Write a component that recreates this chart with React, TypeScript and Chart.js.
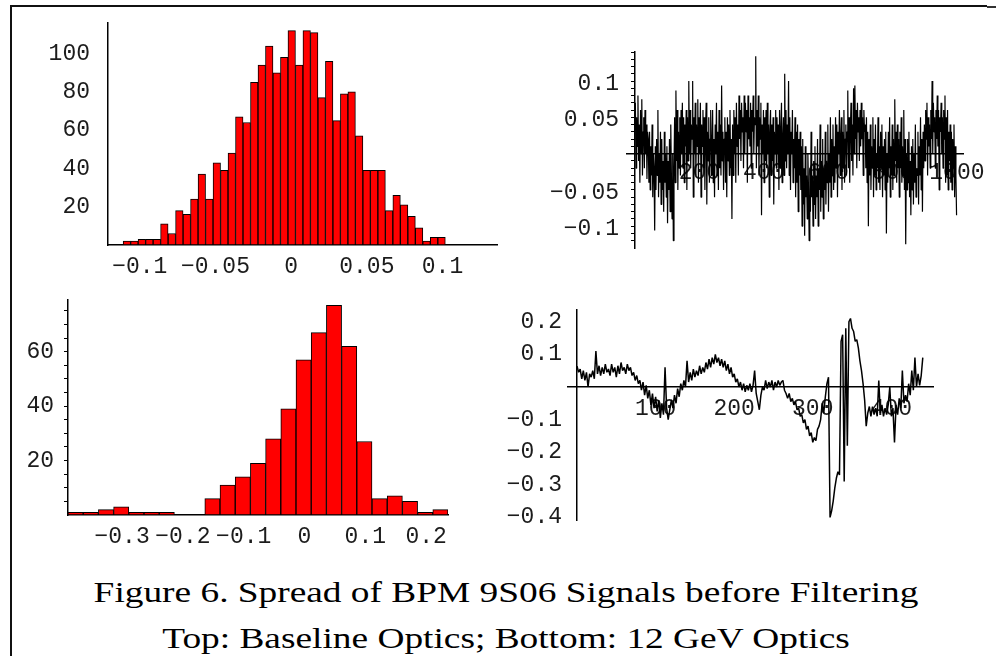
import React, { useEffect, useRef } from "react";
import { Chart, registerables } from "chart.js";

Chart.register(...registerables);

const MONO = "'Liberation Mono', 'DejaVu Sans Mono', monospace";
const TICK_FONT = { family: MONO, size: 23 };
const INK = "#1c1c1c";

// ---------- Top-left: histogram, baseline optics ----------
const TL_BIN_START = -0.111;
const TL_BIN_WIDTH = 0.00495;
const TL_COUNTS = [2, 2, 3, 3, 3, 11, 6, 18, 16, 24, 37, 24, 43, 39, 48, 67, 64, 85, 94, 104, 90, 98, 112, 94, 112, 111, 77, 96, 65, 79, 80, 57, 39, 39, 39, 18, 26, 21, 15, 9, 2, 4, 4];
const TL_X_TICKS = [-0.1, -0.05, 0, 0.05, 0.1];
const TL_X_LABELS = ["−0.1", "−0.05", "0", "0.05", "0.1"];
const TL_Y_TICKS = [20, 40, 60, 80, 100];
const TL_Y_LABELS = ["20", "40", "60", "80", "100"];

// ---------- Bottom-left: histogram, 12 GeV optics ----------
const BL_BIN_START = -0.389;
const BL_BIN_WIDTH = 0.025;
const BL_COUNTS = [1, 1, 2, 3, 1, 1, 1, 0, 0, 6, 11, 14, 19, 28, 39, 57, 67, 77, 62, 27, 6, 7, 5, 1, 2];
const BL_X_TICKS = [-0.3, -0.2, -0.1, 0, 0.1, 0.2];
const BL_X_LABELS = ["−0.3", "−0.2", "−0.1", "0", "0.1", "0.2"];
const BL_Y_TICKS = [5, 10, 15, 20, 25, 30, 35, 40, 45, 50, 55, 60, 65, 70, 75];
const BL_Y_LABELS = ["", "", "", "20", "", "", "", "40", "", "", "", "60", "", "", ""];

// ---------- Top-right: signal, baseline optics ----------
const TR_X_START = 1;
const TR_X_STEP = 2;
const TR_VALUES = [
  0.07, -0.02, 0.05, 0.01, 0.08, -0.01, 0.04, -0.04, 0.06, 0.0,
  0.075, -0.03, 0.03, 0.05, -0.02, 0.06, 0.0, 0.04, -0.035, 0.03,
  0.02, -0.04, 0.03, -0.05, 0.01, -0.03, 0.04, -0.06, 0.0, -0.02,
  -0.106, 0.01, -0.05, 0.02, -0.03, 0.06, -0.06, 0.0, -0.04, 0.03,
  -0.07, 0.02, -0.05, -0.01, -0.08, 0.03, -0.04, 0.0, -0.06, 0.01,
  -0.096, -0.01, -0.05, 0.02, -0.08, 0.04, -0.03, -0.09, 0.0, -0.12,
  -0.02, 0.05, -0.04, 0.087, -0.01, 0.06, -0.05, 0.03, -0.02, 0.05,
  -0.03, 0.06, 0.0, 0.07, -0.02, 0.05, -0.04, 0.04, 0.01, 0.06,
  -0.05, 0.05, -0.01, 0.1, 0.0, 0.06, -0.02, 0.04, 0.02, 0.1,
  -0.06, 0.05, 0.0, 0.07, -0.03, 0.04, 0.01, 0.075, -0.04, 0.05,
  0.0, 0.07, -0.06, 0.04, 0.01, 0.06, -0.02, 0.05, -0.05, 0.03,
  0.07, -0.07, 0.03, -0.01, 0.05, -0.04, 0.02, 0.06, -0.03, 0.01,
  0.06, -0.04, 0.02, -0.06, 0.04, 0.0, 0.07, -0.03, 0.03, -0.05,
  0.06, -0.02, 0.04, -0.03, 0.094, -0.01, 0.03, -0.05, 0.02, 0.05,
  -0.04, 0.03, -0.06, 0.05, -0.01, 0.04, -0.03, 0.06, -0.02, 0.02,
  -0.09, 0.04, -0.03, 0.06, 0.0, 0.05, -0.04, 0.07, 0.01, 0.04,
  -0.03, 0.08, 0.02, 0.06, -0.01, 0.07, 0.03, 0.05, -0.02, 0.08,
  0.0, 0.07, 0.03, 0.06, -0.04, 0.08, 0.02, 0.05, 0.01, 0.07,
  -0.02, 0.06, 0.03, 0.08, 0.0, 0.05, 0.04, 0.134, -0.02, 0.06,
  0.01, 0.08, -0.03, 0.05, 0.02, 0.07, -0.085, 0.04, 0.0, 0.06,
  -0.04, 0.05, -0.01, 0.06, -0.02, 0.07, 0.0, 0.04, -0.06, 0.03,
  0.06, -0.03, 0.04, -0.01, 0.05, -0.07, 0.03, 0.0, 0.06, -0.02,
  0.05, 0.0, 0.04, -0.05, 0.06, -0.02, 0.03, 0.07, -0.04, 0.02,
  0.05, -0.03, 0.11, -0.01, 0.06, -0.02, 0.04, 0.0, 0.1, -0.03,
  0.05, -0.05, 0.03, 0.0, 0.06, -0.04, 0.02, -0.02, 0.05, -0.06,
  0.03, -0.04, 0.04, -0.08, 0.02, -0.03, 0.03, -0.05, 0.01, -0.1,
  0.02, -0.07, -0.02, -0.113, 0.01, -0.06, -0.03, -0.09, 0.0, -0.05,
  -0.12, -0.02, -0.08, 0.03, -0.06, -0.03, -0.1, -0.01, -0.07, 0.01,
  -0.09, -0.03, -0.06, 0.02, -0.1, -0.02, -0.05, 0.04, -0.08, -0.01,
  -0.06, 0.02, -0.09, -0.02, -0.05, 0.03, -0.07, -0.01, -0.04, 0.04,
  -0.08, 0.0, -0.04, 0.05, -0.06, 0.02, -0.03, 0.04, -0.05, 0.01,
  -0.04, 0.05, -0.02, 0.04, -0.06, 0.03, 0.0, 0.06, -0.03, 0.02,
  0.05, -0.05, 0.03, -0.02, 0.06, -0.04, 0.02, 0.04, -0.03, 0.03,
  0.087, -0.02, 0.05, -0.04, 0.03, 0.07, -0.01, 0.04, -0.03, 0.09,
  0.0, 0.094, 0.02, 0.06, -0.02, 0.07, 0.03, 0.05, -0.01, 0.06,
  0.01, 0.07, 0.02, 0.05, -0.03, 0.06, 0.03, 0.04, -0.02, 0.05,
  -0.04, 0.03, -0.1, 0.02, -0.03, 0.04, -0.05, 0.01, -0.02, 0.05,
  -0.06, 0.02, -0.03, 0.04, -0.05, 0.0, -0.02, 0.05, -0.04, 0.01,
  -0.05, 0.03, -0.02, 0.04, -0.06, 0.01, -0.03, 0.02, -0.05, 0.03,
  -0.11, 0.0, -0.04, 0.03, -0.02, 0.05, -0.06, 0.01, -0.03, 0.04,
  -0.05, 0.02, -0.03, 0.075, -0.01, 0.03, -0.04, 0.04, -0.02, 0.02,
  -0.06, 0.03, -0.02, 0.05, -0.04, 0.01, -0.03, 0.06, -0.05, 0.02,
  -0.125, 0.0, -0.05, 0.02, -0.04, 0.03, -0.06, -0.01, -0.085, 0.01,
  -0.05, 0.02, -0.07, 0.0, -0.04, 0.04, -0.06, -0.02, -0.03, 0.03,
  -0.07, 0.01, -0.03, 0.05, -0.05, 0.02, -0.08, 0.03, -0.02, 0.04,
  -0.01, 0.06, 0.02, 0.07, -0.03, 0.05, 0.01, 0.04, -0.02, 0.06,
  0.02, 0.1, 0.0, 0.07, 0.03, 0.05, -0.02, 0.06, 0.02, 0.08,
  0.01, 0.06, -0.05, 0.05, 0.03, 0.07, 0.0, 0.05, -0.02, 0.06,
  0.02, 0.08, -0.04, 0.05, -0.03, 0.06, -0.05, 0.03, -0.01, 0.04,
  -0.04, 0.03, -0.05, 0.02, -0.02, 0.04, -0.06, 0.01, -0.03, -0.085,
];
const TR_X_TICKS = [200, 400, 600, 800, 1000];
const TR_X_LABELS = ["200", "400", "600", "800", "1000"];
const TR_Y_TICKS = [-0.12, -0.11, -0.1, -0.09, -0.08, -0.07, -0.06, -0.05, -0.04, -0.03, -0.02, -0.01, 0.01, 0.02, 0.03, 0.04, 0.05, 0.06, 0.07, 0.08, 0.09, 0.1, 0.11, 0.12, 0.13, 0.14];
const TR_Y_LABEL_TICKS = [-0.1, -0.05, 0.05, 0.1];
const TR_Y_LABELS = ["−0.1", "−0.05", "0.05", "0.1"];

// ---------- Bottom-right: signal, 12 GeV optics ----------
const BR_X_START = 0;
const BR_X_STEP = 2;
const BR_VALUES = [
  0.064, 0.045, 0.055, 0.025, 0.05, 0.02, 0.045, 0.0, 0.04, 0.03,
  0.05, 0.025, 0.11, 0.04, 0.065, 0.035, 0.06, 0.04, 0.07, 0.045,
  0.055, 0.035, 0.07, 0.045, 0.06, 0.03, 0.065, 0.04, 0.075, 0.05,
  0.06, 0.04, 0.07, 0.05, 0.06, 0.035, 0.045, 0.02, 0.035, 0.01,
  0.02, -0.01, 0.015, -0.025, 0.005, -0.035, -0.01, -0.055, -0.02, -0.065,
  -0.03, -0.075, -0.04, -0.095, -0.05, -0.085, 0.06, -0.065, -0.1, -0.07,
  -0.04, -0.065, -0.025, -0.05, -0.005, -0.03, 0.01, -0.01, 0.02, 0.0,
  0.08, 0.015, 0.045, 0.02, 0.055, 0.03, 0.05, 0.035, 0.065, 0.04,
  0.06, 0.045, 0.075, 0.055, 0.085, 0.06, 0.09, 0.07, 0.1, 0.075,
  0.09, 0.065, 0.085, 0.06, 0.08, 0.05, 0.07, 0.04, 0.06, 0.03,
  0.04, 0.015, 0.025, 0.0, 0.015, -0.01, 0.01, -0.015, 0.005, -0.01,
  0.01, -0.015, 0.005, 0.05, -0.02, -0.045, -0.07, -0.025, 0.0, -0.01,
  0.02, -0.005, 0.015, 0.0, 0.02, -0.01, 0.015, 0.0, 0.02, 0.005,
  0.015, 0.02, -0.01, -0.02, -0.035, -0.02, -0.045, -0.035, -0.055, -0.045,
  -0.07, -0.065, -0.09, -0.085, -0.11, -0.1, -0.13, -0.12, -0.15, -0.14,
  -0.17, -0.155, -0.165, -0.13, -0.12, -0.1, -0.05, -0.08, -0.03, 0.01,
  0.03, -0.4, -0.38, -0.35, -0.31, -0.28, -0.26, -0.27, 0.14, 0.16,
  -0.29, 0.18, -0.18, 0.2, 0.21, 0.18, 0.17, 0.14, 0.145, 0.12,
  0.08, 0.05, 0.01, -0.04, -0.12, -0.08, -0.06, -0.09, -0.06, -0.085,
  -0.065, -0.09, 0.02, -0.08, -0.055, -0.09, -0.065, -0.085, -0.055, 0.0,
  -0.09, -0.065, -0.17, -0.055, -0.085, -0.035, -0.065, 0.05, -0.05, -0.025,
  -0.045, 0.01, -0.025, 0.05, -0.01, 0.09, 0.0, 0.04, 0.005, 0.035,
  0.09,
];
const BR_X_TICKS = [100, 200, 300, 400];
const BR_X_LABELS = ["100", "200", "300", "400"];
const BR_Y_TICKS = [-0.4, -0.3, -0.2, -0.1, 0.1, 0.2];
const BR_Y_LABELS = ["−0.4", "−0.3", "−0.2", "−0.1", "0.1", "0.2"];

const CAPTION_1 = "Figure 6. Spread of BPM 9S06 Signals before Filtering";
const CAPTION_2 = "Top: Baseline Optics; Bottom: 12 GeV Optics";

function zeroPad(s: any) {
  s.paddingTop = 0;
  s.paddingBottom = 0;
  s.paddingLeft = 0;
  s.paddingRight = 0;
}

// axis line (with tick marks) placed at a value of the other axis
function lineAxis(
  axisId: "x" | "y",
  min: number,
  max: number,
  at: number,
  ticks: number[],
  labels: string[] | null,
  tickLen: number,
  pad: number
) {
  const other = axisId === "x" ? "y" : "x";
  return {
    type: "linear",
    axis: axisId,
    min,
    max,
    offset: false,
    position: { [other]: at },
    grid: {
      display: true,
      drawOnChartArea: false,
      drawTicks: tickLen > 0,
      tickLength: tickLen,
      color: "#000",
      tickColor: "#000",
      lineWidth: 1,
      offset: false,
    },
    border: { display: true, color: "#000", width: 1.5 },
    afterBuildTicks: (s: any) => {
      s.ticks = ticks.map((v) => ({ value: v }));
    },
    afterFit: zeroPad,
    ticks: {
      autoSkip: false,
      maxRotation: 0,
      minRotation: 0,
      padding: pad,
      color: INK,
      font: TICK_FONT,
      callback: (_v: any, i: number) => (labels ? labels[i] : ""),
    },
  };
}

// left label strip for the vertical axis (fixed width = canvas-left to plot-left)
function labelAxis(
  min: number,
  max: number,
  ticks: number[],
  labels: string[],
  width: number,
  pad: number,
  shift: number
) {
  return {
    type: "linear",
    axis: "y",
    min,
    max,
    position: "left",
    grid: { display: false, drawTicks: false, drawOnChartArea: false },
    border: { display: false },
    afterBuildTicks: (s: any) => {
      s.ticks = ticks.map((v) => ({ value: v }));
    },
    afterFit: (s: any) => {
      s.width = width;
      zeroPad(s);
    },
    ticks: {
      autoSkip: false,
      padding: pad,
      labelOffset: shift,
      color: INK,
      font: TICK_FONT,
      callback: (_v: any, i: number) => labels[i],
    },
  };
}

function baseOptions(padding: any, scales: any) {
  return {
    animation: false,
    responsive: false,
    maintainAspectRatio: false,
    devicePixelRatio: 1,
    events: [],
    layout: { padding },
    plugins: { legend: { display: false }, tooltip: { enabled: false } },
    scales,
  };
}

function histConfig(binStart: number, binWidth: number, counts: number[], padding: any, scales: any) {
  const data = counts.map((c, i) => ({ x: binStart + (i + 0.5) * binWidth, y: c }));
  return {
    type: "bar",
    data: {
      datasets: [
        {
          data,
          xAxisID: "x",
          yAxisID: "y",
          backgroundColor: "#ff0000",
          borderColor: "#000",
          borderWidth: 1,
          borderSkipped: false,
          barPercentage: 1,
          categoryPercentage: 1,
        },
      ],
    },
    options: baseOptions(padding, scales),
  };
}

function lineConfig(xStart: number, xStep: number, values: number[], lineWidth: number, padding: any, scales: any) {
  const data = values.map((v, i) => ({ x: xStart + i * xStep, y: v }));
  return {
    type: "line",
    data: {
      datasets: [
        {
          data,
          xAxisID: "x",
          yAxisID: "y",
          borderColor: "#000",
          borderWidth: lineWidth,
          borderJoinStyle: "bevel",
          pointRadius: 0,
          tension: 0,
          fill: false,
        },
      ],
    },
    options: baseOptions(padding, scales),
  };
}

function Panel({ left, top, width, height, make }: any) {
  const ref = useRef<HTMLCanvasElement>(null);
  useEffect(() => {
    const chart = new Chart(ref.current as HTMLCanvasElement, make());
    return () => chart.destroy();
  }, []);
  return (
    <canvas
      ref={ref}
      width={width}
      height={height}
      style={{ position: "absolute", left, top, width, height }}
    />
  );
}

// Top-left: canvas at (10,10) 500x280, plot area x 108..497, y 23..245
const makeTL = () =>
  histConfig(TL_BIN_START, TL_BIN_WIDTH, TL_COUNTS, { left: 0, right: 13, top: 13, bottom: 45 }, {
    x: lineAxis("x", -0.121, 0.136, 0, TL_X_TICKS, TL_X_LABELS, 0, 8),
    y: lineAxis("y", 0, 116, -0.121, TL_Y_TICKS, null, 0, 0),
    yl: labelAxis(0, 116, TL_Y_TICKS, TL_Y_LABELS, 98, 18, 0),
  });

// Bottom-left: canvas at (10,290) 460x265, plot area x 68..448, y 300..515
const makeBL = () =>
  histConfig(BL_BIN_START, BL_BIN_WIDTH, BL_COUNTS, { left: 0, right: 22, top: 10, bottom: 40 }, {
    x: lineAxis("x", -0.389, 0.236, 0, BL_X_TICKS, BL_X_LABELS, 0, 8),
    y: lineAxis("y", 0, 79, -0.389, BL_Y_TICKS, null, 3, 0),
    yl: labelAxis(0, 79, BL_Y_TICKS, BL_Y_LABELS, 58, 14, 0),
  });

// Top-right: canvas at (520,30) 470x240, plot area x 627..963, y 52..248
const makeTR = () =>
  lineConfig(TR_X_START, TR_X_STEP, TR_VALUES, 1.2, { left: 0, right: 27, top: 22, bottom: 22 }, {
    x: lineAxis("x", -25, 1019, 0, TR_X_TICKS, TR_X_LABELS, 0, 5),
    y: lineAxis("y", -0.13, 0.14, 0, TR_Y_TICKS, null, 3, 0),
    yl: labelAxis(-0.13, 0.14, TR_Y_LABEL_TICKS, TR_Y_LABELS, 107, 8, 2.5),
  });

// Bottom-right: canvas at (490,295) 460x245, plot area x 568..933, y 310..520
const makeBR = () =>
  lineConfig(BR_X_START, BR_X_STEP, BR_VALUES, 1.5, { left: 0, right: 17, top: 15, bottom: 20 }, {
    x: lineAxis("x", -11.5, 453, 0, BR_X_TICKS, BR_X_LABELS, 0, 8),
    y: lineAxis("y", -0.408, 0.236, 0, BR_Y_TICKS, null, 0, 0),
    yl: labelAxis(-0.408, 0.236, BR_Y_TICKS, BR_Y_LABELS, 78, 6, 0),
  });

const captionStyle: any = {
  position: "absolute",
  left: 0,
  width: 1012,
  textAlign: "center",
  fontFamily: "'Liberation Serif', 'Times New Roman', serif",
  fontSize: 30,
  lineHeight: "30px",
  whiteSpace: "nowrap",
  color: "#000",
  transform: "scaleX(1.245)",
  transformOrigin: "506px 0",
};

export default function App() {
  return (
    <div
      style={{
        position: "absolute",
        left: 0,
        top: 0,
        width: 996,
        height: 656,
        background: "#fff",
        overflow: "hidden",
      }}
    >
      <div style={{ position: "absolute", left: 10, top: 5, width: 977, height: 2, background: "#111" }} />
      <div style={{ position: "absolute", left: 987, top: 6, width: 9, height: 2, background: "#333" }} />
      <div style={{ position: "absolute", left: 10, top: 5, width: 2, height: 651, background: "#111" }} />
      <Panel left={10} top={10} width={500} height={280} make={makeTL} />
      <Panel left={520} top={30} width={470} height={240} make={makeTR} />
      <Panel left={10} top={290} width={460} height={265} make={makeBL} />
      <Panel left={490} top={295} width={460} height={245} make={makeBR} />
      <div style={{ ...captionStyle, top: 577 }}>{CAPTION_1}</div>
      <div style={{ ...captionStyle, top: 623 }}>{CAPTION_2}</div>
    </div>
  );
}
